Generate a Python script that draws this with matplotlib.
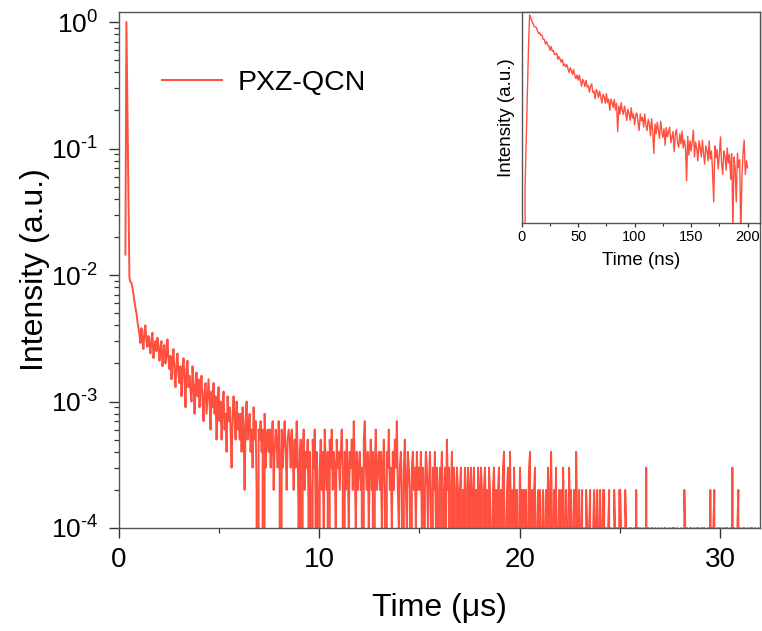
import numpy as np
import matplotlib
matplotlib.use('Agg')
import matplotlib.pyplot as plt
from matplotlib.ticker import LogLocator, NullLocator, MultipleLocator, NullFormatter, FuncFormatter

plt.rcParams['font.family'] = ['Liberation Sans', 'DejaVu Sans']
plt.rcParams['mathtext.fontset'] = 'custom'
plt.rcParams['mathtext.rm'] = 'Liberation Sans'
plt.rcParams['mathtext.it'] = 'Liberation Sans:italic'
plt.rcParams['mathtext.bf'] = 'Liberation Sans:bold'
plt.rcParams['mathtext.default'] = 'regular'

# ---------------- data: main transient (counts per 50 ns bin) ----------------
series_label = "PXZ-QCN"
main_t0_us = 0.32
main_bin_us = 0.05
main_peak_counts = 10000

counts_rise = [145, 10000, 2100, 450, 95, 88, 87, 80, 70, 62, 55, 50, 43, 38]
counts_1_5 = [34, 29, 38, 31, 26, 36, 40, 30, 27, 33,
              29, 24, 31, 35, 22, 27, 30, 25, 32, 28,
              21, 26, 30, 19, 24, 28, 20, 23, 31, 22,
              18, 23, 15, 21, 26, 17, 13, 20, 24, 16,
              14, 19, 11, 17, 22, 15, 9, 18, 21, 13,
              16, 12, 10, 19, 14, 8, 13, 17, 11, 15,
              9, 13, 16, 10, 7, 12, 14, 8, 11, 15,
              10, 6, 12, 9, 14, 8, 11, 5, 9, 13]
counts_5_10 = [7, 10, 5, 9, 12, 6, 8, 4, 11, 7,
               9, 6, 3, 8, 11, 7, 5, 10, 6, 8,
               5, 8, 4, 9, 6, 2, 7, 10, 5, 6,
               8, 4, 6, 3, 9, 5, 7, 2, 0, 6,
               5, 7, 4, 6, 0, 8, 3, 5, 6, 4,
               6, 3, 5, 7, 2, 4, 6, 5, 3, 7,
               4, 0, 6, 3, 5, 7, 4, 2, 5, 6,
               5, 3, 6, 4, 2, 5, 3, 7, 4, 1,
               3, 5, 0, 4, 6, 2, 4, 3, 5, 1,
               4, 2, 0, 5, 3, 6, 1, 4, 2, 0]
counts_10_20 = [3, 5, 2, 4, 1, 6, 3, 2, 4, 0, 5, 3, 6, 2, 4, 3, 1, 5, 3, 4,
                2, 4, 6, 3, 0, 4, 2, 5, 3, 1, 4, 3, 5, 2, 7, 3, 1, 4, 2, 3,
                4, 2, 3, 0, 5, 7, 3, 2, 4, 1, 3, 5, 2, 4, 0, 3, 6, 2, 3, 4,
                2, 4, 1, 3, 5, 2, 0, 4, 3, 6, 2, 3, 1, 4, 2, 5, 3, 7, 2, 1,
                3, 4, 2, 0, 3, 5, 2, 1, 4, 3, 2, 0, 3, 4, 2, 3, 1, 4, 2, 3,
                2, 4, 1, 3, 0, 2, 4, 3, 1, 2, 4, 2, 0, 3, 2, 4, 1, 3, 2, 0,
                3, 2, 4, 0, 2, 3, 1, 5, 2, 3, 0, 2, 4, 1, 3, 2, 0, 3, 2, 1,
                2, 3, 0, 2, 1, 3, 2, 0, 3, 2, 1, 3, 0, 2, 3, 1, 2, 0, 3, 2,
                1, 3, 2, 0, 2, 3, 1, 2, 0, 3, 2, 1, 0, 2, 3, 1, 2, 0, 2, 3,
                0, 2, 1, 3, 4, 0, 1, 2, 3, 0, 4, 1, 2, 0, 3, 1, 2, 2, 0, 1]
counts_20_32 = [3, 1, 2, 0, 2, 1, 2, 0, 1, 3, 4, 0, 2, 1, 2, 3, 0, 1, 2, 1,
                2, 0, 1, 2, 1, 0, 2, 1, 3, 2, 0, 4, 1, 0, 2, 1, 3, 0, 1, 2,
                1, 2, 0, 3, 1, 0, 2, 1, 0, 3, 1, 2, 0, 1, 2, 0, 4, 1, 0, 2,
                0, 1, 2, 0, 1, 0, 2, 1, 0, 1, 2, 0, 0, 1, 2, 1, 0, 2, 0, 1,
                2, 0, 1, 2, 2, 0, 1, 0, 1, 2, 0, 1, 0, 0, 2, 1, 0, 1, 0, 2,
                2, 1, 0, 1, 0, 2, 1, 0, 0, 1, 0, 1, 0, 0, 1, 0, 2, 0, 1, 0,
                1, 0, 0, 1, 0, 0, 3, 0, 1, 0, 0, 1, 1, 0, 0, 1, 0, 0, 1, 0,
                0, 1, 0, 0, 1, 1, 0, 0, 0, 1, 0, 0, 1, 1, 1, 0, 0, 1, 0, 0,
                0, 1, 0, 0, 2, 1, 0, 1, 0, 0, 1, 1, 0, 0, 1, 0, 0, 1, 1, 0,
                0, 1, 0, 1, 1, 0, 0, 0, 1, 0, 2, 0, 1, 1, 2, 0, 0, 1, 0, 1,
                0, 1, 0, 0, 1, 0, 1, 1, 0, 0, 1, 0, 3, 0, 1, 0, 0, 1, 2, 0,
                1, 0, 0, 1, 1, 0, 0, 1, 0, 0, 1, 1, 1, 0, 0, 1, 0, 0, 1, 0]

# ---------------- data: inset prompt decay (1 ns bins, scaled to 10000 at peak) ----------------
inset_bin_ns = 1.0
inset_peak = 10000
inset_counts = [0, 0, 0, 85, 320, 1120, 4000, 10000, 9150, 8520,
                7950, 7230, 7180, 7070, 6420, 5960, 6120, 5680, 5730, 5090,
                5090, 4490, 4790, 4330, 4260, 3760, 4190, 3670, 3750, 3360,
                3340, 3470, 2920, 3150, 2940, 2700, 2920, 2450, 2570, 2370,
                2520, 2240, 2030, 2320, 2130, 1930, 2210, 1860, 1720, 1890,
                1640, 1880, 1620, 1390, 1680, 1570, 1370, 1630, 1360, 1410,
                1180, 1390, 1480, 1170, 1210, 980, 1270, 1180, 1010, 1210,
                1030, 870, 1110, 1030, 865, 1130, 880, 970, 710, 970,
                880, 770, 960, 720, 860, 395, 800, 640, 880, 710,
                635, 800, 675, 535, 730, 655, 540, 765, 575, 640,
                475, 625, 660, 510, 405, 645, 530, 585, 445, 645,
                470, 405, 550, 495, 350, 565, 400, 215, 485, 370,
                510, 405, 325, 525, 410, 335, 425, 270, 440, 340,
                390, 445, 290, 340, 395, 225, 365, 420, 290, 255,
                370, 280, 400, 250, 310, 255, 100, 345, 205, 305,
                230, 295, 410, 195, 295, 245, 175, 305, 255, 195,
                310, 215, 160, 265, 235, 175, 305, 185, 230, 130,
                56, 265, 190, 240, 140, 205, 340, 160, 120, 230,
                200, 135, 250, 165, 210, 105, 215, 25, 195, 140,
                56, 215, 145, 180, 20, 115, 220, 310, 120, 175, 145]

# ---------------- build ----------------
main_counts = np.array(counts_rise + counts_1_5 + counts_5_10 + counts_10_20 + counts_20_32, dtype=float)
main_t = main_t0_us + main_bin_us * np.arange(main_counts.size)
main_y = main_counts / main_peak_counts

inset_c = np.array(inset_counts, dtype=float)
inset_t = inset_bin_ns * np.arange(inset_c.size)
inset_y = inset_c / inset_peak

line_color = '#FF4F3F'
spine_color = '#555555'
tick_color = '#333333'


def log_fmt(v, pos):
    e = int(round(np.log10(v)))
    if e < 0:
        return r'$10^{\text{-}%d}$' % (-e)
    return r'$10^{%d}$' % e


W, H = 762, 631
fig = plt.figure(figsize=(W / 100, H / 100), dpi=100)
L, R, B, T = 119 / W, 760 / W, 1 - 528 / H, 1 - 12 / H
ax = fig.add_axes([L, B, R - L, T - B])

ax.plot(main_t, main_y, color=line_color, lw=1.4, label=series_label)
ax.set_yscale('log')
ax.set_xlim(0, 32)
ax.set_ylim(1e-4, 1.2)

ax.xaxis.set_major_locator(MultipleLocator(10))
ax.xaxis.set_minor_locator(MultipleLocator(5))
ax.yaxis.set_major_locator(LogLocator(base=10, numticks=10))
ax.yaxis.set_major_formatter(FuncFormatter(log_fmt))
ax.yaxis.set_minor_locator(LogLocator(base=10, subs=np.arange(2, 10), numticks=20))
ax.yaxis.set_minor_formatter(NullFormatter())

ax.tick_params(axis='both', which='major', direction='out', length=7, width=1,
               color=tick_color, labelsize=20)
ax.tick_params(axis='y', which='major', labelsize=19)
ax.tick_params(axis='both', which='minor', direction='out', length=3.6, width=0.9,
               color=tick_color)
ax.tick_params(axis='x', which='major', pad=7)
ax.tick_params(axis='y', which='major', pad=8)
for s in ax.spines.values():
    s.set_color(spine_color)
    s.set_linewidth(1.0)

ax.set_xlabel('Time (μs)', fontsize=23, labelpad=14)
ax.set_ylabel('Intensity (a.u.)', fontsize=23, labelpad=0.5)

leg = ax.legend(loc='center left', bbox_to_anchor=(0.0671, 0.862), frameon=False,
                fontsize=20.5, handlelength=2.1, handletextpad=0.55, borderpad=0,
                borderaxespad=0)
for h in leg.get_lines():
    h.set_linewidth(1.4)

# ---------------- inset ----------------
iL, iR, iB, iT = 521.7 / W, 760 / W, 1 - 223 / H, 1 - 12 / H
ax2 = fig.add_axes([iL, iB, iR - iL, iT - iB])
ax2.plot(inset_t, inset_y, color=line_color, lw=1.0)
ax2.set_yscale('log')
ax2.set_xlim(0, 211)
ax2.set_ylim(0.00312, 1.087)
ax2.yaxis.set_major_locator(NullLocator())
ax2.yaxis.set_minor_locator(NullLocator())
ax2.xaxis.set_major_locator(MultipleLocator(50))
ax2.xaxis.set_minor_locator(MultipleLocator(25))
ax2.tick_params(axis='x', which='major', direction='out', length=3, width=0.9,
                color=tick_color, labelsize=10.5, pad=2)
ax2.tick_params(axis='x', which='minor', direction='out', length=2.2, width=0.8,
                color=tick_color)
for s in ax2.spines.values():
    s.set_color(spine_color)
    s.set_linewidth(1.0)
ax2.set_xlabel('Time (ns)', fontsize=13.5, labelpad=6)
ax2.set_ylabel('Intensity (a.u.)', fontsize=13.5, labelpad=5)

fig.savefig('out.png', dpi=100)
